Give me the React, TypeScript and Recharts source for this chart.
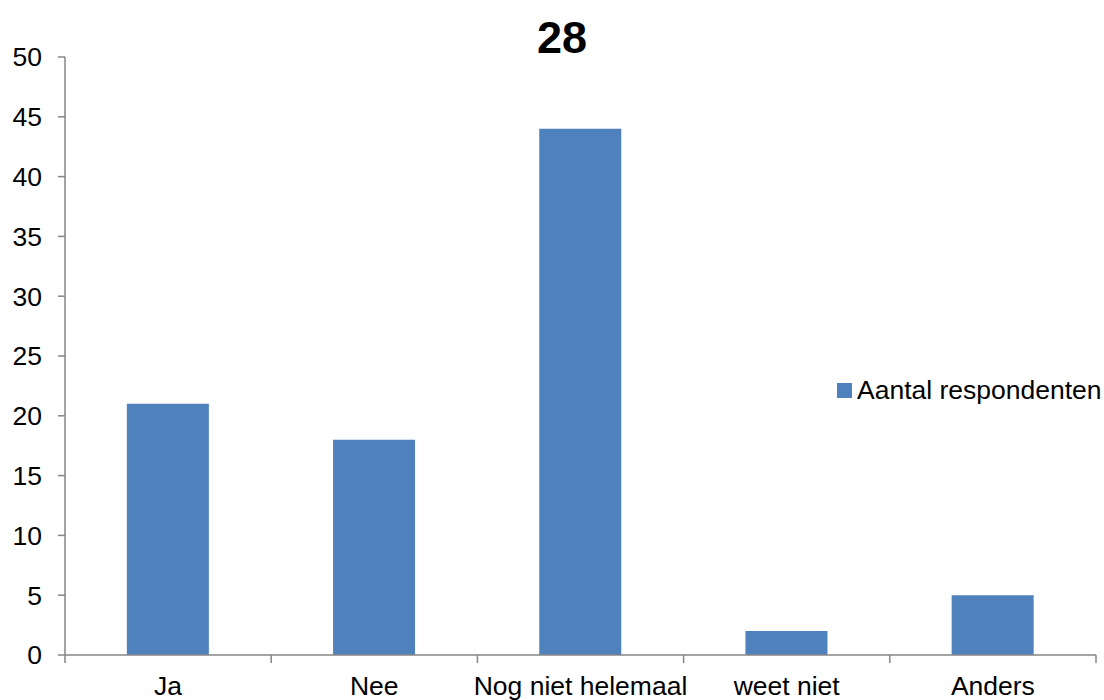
import React from 'react';
import { BarChart, Bar, XAxis, YAxis, Legend } from 'recharts';

const categories = ['Ja', 'Nee', 'Nog niet helemaal', 'weet niet', 'Anders'];
const respondents = [21, 18, 44, 2, 5];
const yTicks = [0, 5, 10, 15, 20, 25, 30, 35, 40, 45, 50];
const seriesName = 'Aantal respondenten';
const title = '28';

const data = categories.map((c, i) => ({ name: c, value: respondents[i] }));

const FONT = '"Liberation Sans", Arial, sans-serif';
const FS = 26.5;
const AXIS = '#868686';
const BAR = '#4F81BD';
const W = 1104;
const H = 700;
const M = { top: 57, right: 8, left: 0, bottom: 0 };
const YW = 65;
const PLOT_W = W - M.left - M.right - YW;
const BAND = PLOT_W / categories.length;

const XTick = (props: any) => {
  const { x, y, payload, index } = props;
  const axisY = y - 8;
  return (
    <g>
      <line x1={x - BAND / 2} x2={x - BAND / 2} y1={axisY} y2={axisY + 8} stroke={AXIS} strokeWidth={1.5} />
      {index === categories.length - 1 && (
        <line x1={x + BAND / 2} x2={x + BAND / 2} y1={axisY} y2={axisY + 8} stroke={AXIS} strokeWidth={1.5} />
      )}
      <text x={x} y={axisY + 21} dy="0.71em" textAnchor="middle" fill="#000" fontSize={FS} fontFamily={FONT}>
        {payload.value}
      </text>
    </g>
  );
};

const LegendContent = () => (
  <div style={{ display: 'flex', alignItems: 'center', fontFamily: FONT, fontSize: FS, color: '#000', whiteSpace: 'nowrap', width: 270 }}>
    <span style={{ display: 'inline-block', flexShrink: 0, width: 15, height: 15, background: BAR, marginRight: 5 }} />
    <span style={{ flexShrink: 0 }}>{seriesName}</span>
  </div>
);

export default function App() {
  return (
    <div style={{ position: 'absolute', left: 0, top: 0, width: W, height: H, background: '#fff' }}>
      <BarChart width={W} height={H} data={data} margin={M} barCategoryGap="30%">
        <XAxis
          dataKey="name"
          axisLine={{ stroke: AXIS, strokeWidth: 1.5 }}
          tickLine={false}
          tick={<XTick />}
          interval={0}
          height={45}
        />
        <YAxis
          domain={[0, 50]}
          ticks={yTicks}
          width={YW}
          interval={0}
          axisLine={{ stroke: AXIS, strokeWidth: 1.5 }}
          tickLine={{ stroke: AXIS, strokeWidth: 1.5 }}
          tickSize={7}
          tickMargin={16}
          tick={{ fill: '#000', fontSize: FS, fontFamily: FONT }}
        />
        <Legend
          content={<LegendContent />}
          wrapperStyle={{ position: 'absolute', left: 837, top: 375, width: 0, height: 0, overflow: 'visible' }}
        />
        <Bar dataKey="value" name={seriesName} fill={BAR} isAnimationActive={false} />
      </BarChart>
      <svg width={W} height={80} style={{ position: 'absolute', left: 0, top: 0, pointerEvents: 'none' }}>
        <text x={562} y={53} textAnchor="middle" fontFamily={FONT} fontWeight="bold" fontSize={45} fill="#000">
          {title}
        </text>
      </svg>
    </div>
  );
}
